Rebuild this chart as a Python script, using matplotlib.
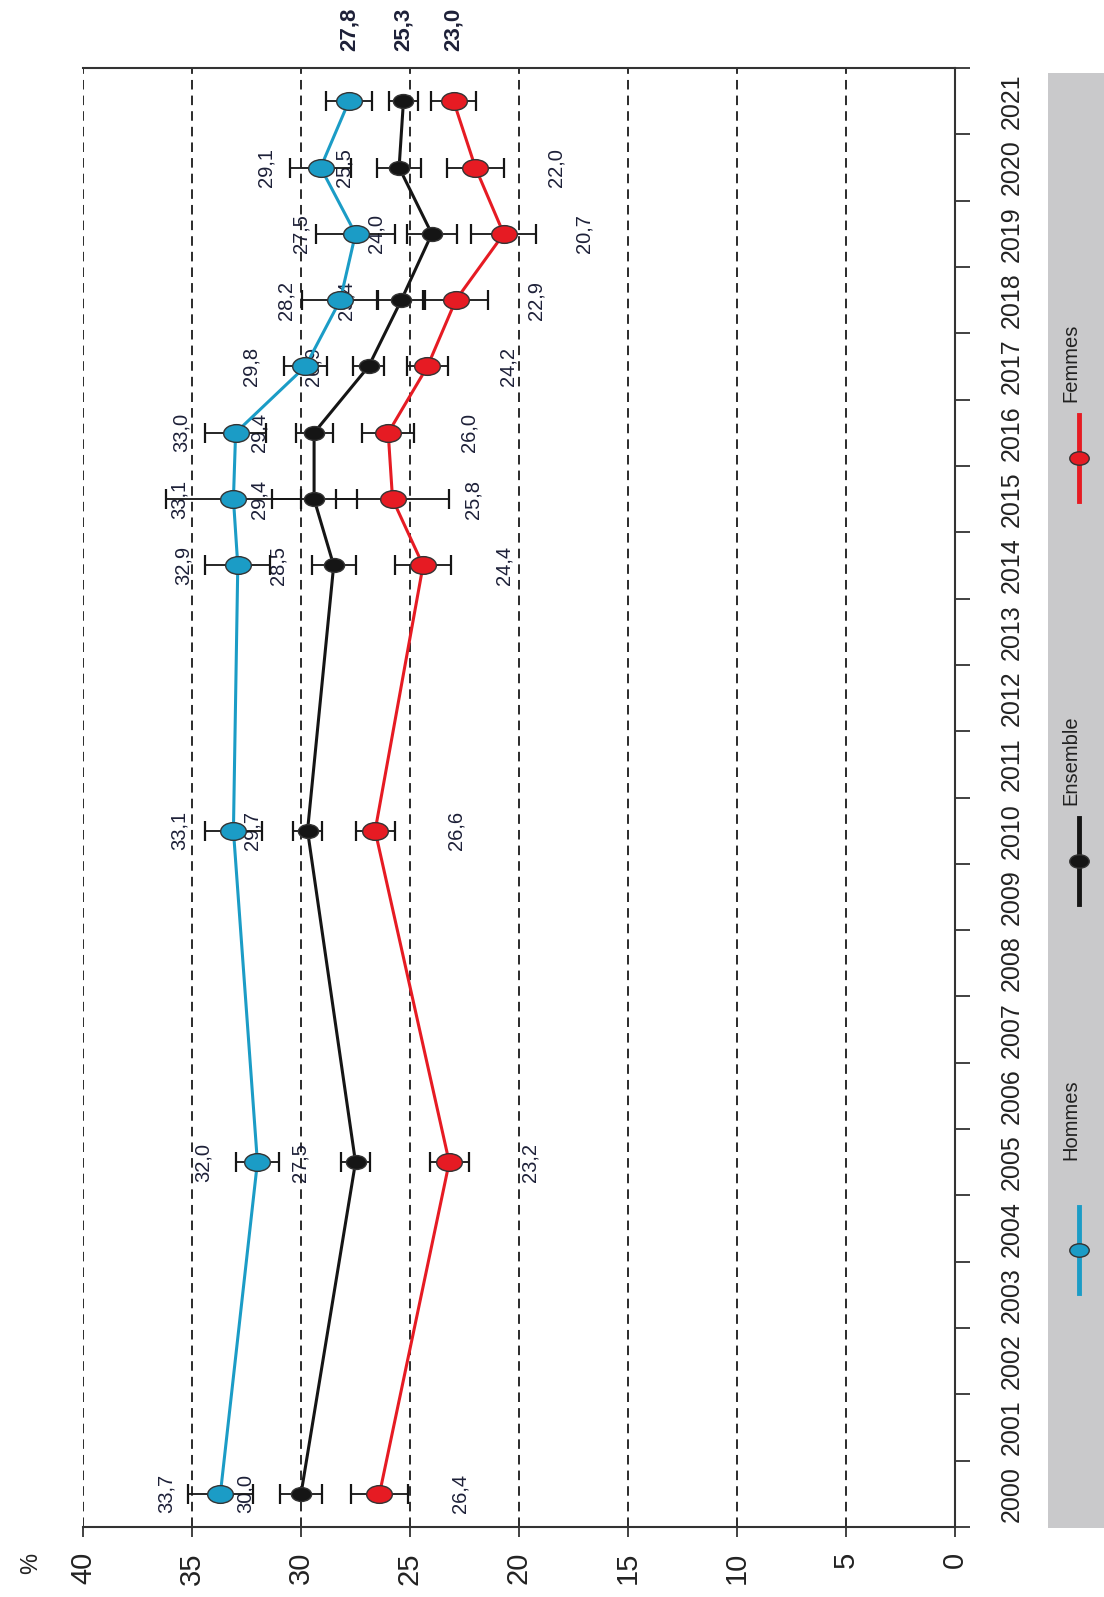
import numpy as np
import matplotlib
matplotlib.use("Agg")
import matplotlib.pyplot as plt
from matplotlib.path import Path
from matplotlib.patches import Rectangle

plt.rcParams['font.family'] = ['Liberation Sans', 'DejaVu Sans']

# survey years with a measurement
years = [2000, 2005, 2010, 2014, 2015, 2016, 2017, 2018, 2019, 2020, 2021]

# prevalence (%) and half-width of the confidence interval
hommes = [33.7, 32.0, 33.1, 32.9, 33.1, 33.0, 29.8, 28.2, 27.5, 29.1, 27.8]
hommes_err = [1.5, 1.0, 1.3, 1.5, 3.1, 1.4, 1.0, 1.75, 1.8, 1.4, 1.05]
ensemble = [30.0, 27.5, 29.7, 28.5, 29.4, 29.4, 26.9, 25.4, 24.0, 25.5, 25.3]
ensemble_err = [0.95, 0.65, 0.65, 1.0, 1.95, 0.85, 0.7, 1.1, 1.15, 1.0, 0.65]
femmes = [26.4, 23.2, 26.6, 24.4, 25.8, 26.0, 24.2, 22.9, 20.7, 22.0, 23.0]
femmes_err = [1.3, 0.9, 0.9, 1.3, 2.6, 1.2, 0.95, 1.5, 1.5, 1.3, 1.05]

all_years = list(range(2000, 2022))
value_ticks = list(range(0, 41, 5))

BLUE = '#1b9cc6'
BLACK = '#151515'
RED = '#e61b23'
TXT = '#1d2038'


def fr(v):
    return f"{v:.1f}".replace('.', ',')


# slightly flattened circle used as marker
circ = Path.unit_circle()
ellipse = Path(circ.vertices * np.array([1.45, 1.0]), circ.codes)

fig = plt.figure(figsize=(11.04, 15.97), dpi=100)
ax = fig.add_axes([0.0752, 0.0438, 0.7898, 0.9136], zorder=1)

series = [
    (hommes, hommes_err, BLUE, 18.5, -39),
    (ensemble, ensemble_err, BLACK, 14.5, -40),
    (femmes, femmes_err, RED, 18.5, 58),
]
for vals, errs, col, ms, off in series:
    ax.errorbar(vals, years, xerr=errs, fmt='none', ecolor=BLACK,
                elinewidth=1.3, capsize=7, capthick=1.6, zorder=3)
    ax.plot(vals, years, color=col, lw=2.2, marker=ellipse, ms=ms,
            mfc=col, mec='#333333', mew=1.0, zorder=4)
    for v, y in zip(vals[:-1], years[:-1]):
        ax.annotate(fr(v), (v, y), xytext=(off, 0), textcoords='offset points',
                    rotation=90, ha='center', va='center', fontsize=14.5,
                    color=TXT, zorder=2.5)
    # latest value printed in bold above the frame
    ax.annotate(fr(vals[-1]), (vals[-1], years[-1]), xytext=(0, 52),
                textcoords='offset points', rotation=90, ha='center',
                va='center', fontsize=16, fontweight='bold', color=TXT,
                annotation_clip=False)

ax.set_xlim(40, 0)
ax.set_ylim(1999.5, 2021.5)

ax.set_xticks(value_ticks)
ax.xaxis.grid(True, color='#111111', lw=1.25, linestyle=(0, (5.5, 3.5)))
ax.set_axisbelow(True)
ax.tick_params(axis='x', direction='out', length=7, width=1.3, color='#333333',
               labelsize=21, labelrotation=90, pad=11, labelcolor='#222222')

ax.yaxis.tick_right()
ax.set_yticks(all_years)
ax.set_yticklabels([str(y) for y in all_years])
ax.set_yticks(np.arange(1999.5, 2022, 1), minor=True)
ax.tick_params(axis='y', which='major', length=0, pad=32, labelsize=18,
               labelrotation=90, labelcolor='#222222')
ax.tick_params(axis='y', which='minor', length=11, width=1.3,
               color='#333333', direction='out')
for t in ax.yaxis.get_major_ticks():
    t.label2.set_va('center')

ax.spines['left'].set_visible(False)
for s in ['right', 'top', 'bottom']:
    ax.spines[s].set_color('#333333')
    ax.spines[s].set_linewidth(1.5)

fig.text(31 / 1104, 1 - 1563 / 1597, '%', rotation=90, ha='center',
         va='center', fontsize=17, color='#222222')

# legend drawn in figure pixel space on a grey band
lax = fig.add_axes([0, 0, 1, 1], zorder=0)
lax.set_xlim(0, 1104)
lax.set_ylim(1597, 0)
lax.axis('off')
lax.add_patch(Rectangle((1048, 73), 60, 1455, color='#c9c9cb', lw=0))
legend_items = [('Hommes', BLUE, 1250, 1160),
                ('Ensemble', BLACK, 861, 805),
                ('Femmes', RED, 458, 402)]
for name, col, my, ty in legend_items:
    lax.plot([1079, 1079], [my - 43, my + 43], color=col, lw=3.5)
    lax.plot([1079], [my], marker=ellipse, ms=14, mfc=col, mec='#333333',
             mew=1.0, color=col)
    lax.text(1071, ty, name, rotation=90, ha='center', va='bottom',
             fontsize=14.5, color='#222222')

fig.savefig('out.png', dpi=100)
